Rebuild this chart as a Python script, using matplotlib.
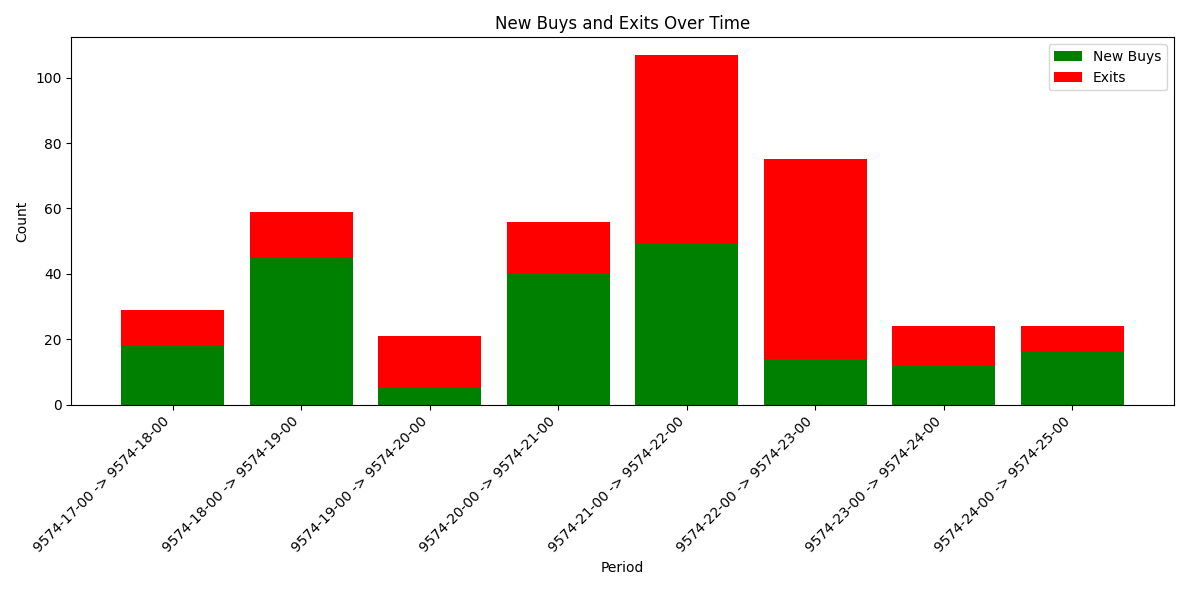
import matplotlib
matplotlib.use('Agg')
import matplotlib.pyplot as plt

periods = ['9574-17-00 -> 9574-18-00', '9574-18-00 -> 9574-19-00',
           '9574-19-00 -> 9574-20-00', '9574-20-00 -> 9574-21-00',
           '9574-21-00 -> 9574-22-00', '9574-22-00 -> 9574-23-00',
           '9574-23-00 -> 9574-24-00', '9574-24-00 -> 9574-25-00']
new_buys = [18, 45, 5, 40, 49, 14, 12, 16]
exits = [11, 14, 16, 16, 58, 61, 12, 8]

fig, ax = plt.subplots(figsize=(11.89, 5.9), dpi=100)
ax.bar(periods, new_buys, color='green', label='New Buys')
ax.bar(periods, exits, bottom=new_buys, color='red', label='Exits')
ax.set_title('New Buys and Exits Over Time')
ax.set_xlabel('Period')
ax.set_ylabel('Count')
plt.xticks(rotation=45, ha='right')
ax.legend()
plt.tight_layout()
plt.savefig('out.png')
